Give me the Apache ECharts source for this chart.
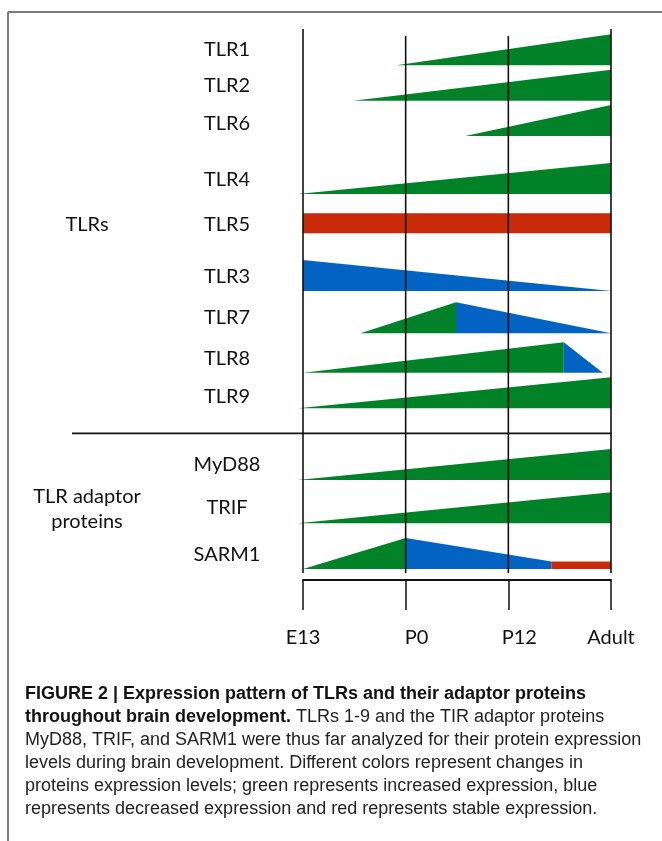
<!DOCTYPE html>
<html><head><meta charset="utf-8">
<script src="https://cdn.jsdelivr.net/npm/echarts@6/dist/echarts.min.js"></script>
<style>html,body{margin:0;padding:0;background:#fff}#c{width:662px;height:841px}</style>
</head><body><div id="c"></div>
<script>
// ---------- DATA ----------
const stages = ['E13', 'P0', 'P12', 'Adult'];
const stageValues = [0, 1, 2, 3];
const rowNames = ['TLR1', 'TLR2', 'TLR6', 'TLR4', 'TLR5', 'TLR3', 'TLR7', 'TLR8', 'TLR9', 'MyD88', 'TRIF', 'SARM1'];
// expression segments (time in stage units, level 0..1)
const segRow    = [0,    1,    2,    3,     4,    5, 6,    6,    7,    7,    8,     9,     10,    11, 11,   11];
const segFrom   = [0.91, 0.49, 1.58, -0.05, 0,    0, 0.56, 1.49, 0,    2.54, -0.05, -0.05, -0.05, 0,  1,    2.42];
const segTo     = [3,    3,    3,    3,     3,    3, 1.49, 3,    2.54, 2.92, 3,     3,     3,     1,  2.42, 3];
const levelFrom = [0,    0,    0,    0,     0.65, 1, 0,    1,    0,    0.98, 0,     0,     0,     0,  1,    0.24];
const levelTo   = [1,    1,    1,    1,     0.65, 0, 1,    0,    0.98, 0,    1,     1,     1,     1,  0.24, 0.24];
const trend     = ['up', 'up', 'up', 'up', 'stable', 'down', 'up', 'down', 'up', 'down', 'up', 'up', 'up', 'up', 'down', 'stable'];
const groupTLR = 'TLRs';
const groupAdaptor = ['TLR adaptor', 'proteins'];
const captionLines = [
  '{b|FIGURE 2 | Expression pattern of TLRs and their adaptor proteins}',
  '{b|throughout brain development.}{n| TLRs 1-9 and the TIR adaptor proteins}',
  '{n|MyD88, TRIF, and SARM1 were thus far analyzed for their protein expression}',
  '{n|levels during brain development. Different colors represent changes in}',
  '{n|proteins expression levels; green represents increased expression, blue}',
  '{n|represents decreased expression and red represents stable expression.}'
];

// ---------- LAYOUT / STYLE ----------
const rowBaseline = [65.3, 100.7, 136, 194, 233.3, 291, 333.3, 372.7, 408.3, 480, 523.3, 569];
const rowLabelY   = [50, 85.7, 124, 179.3, 225, 276.7, 318, 359, 396.7, 465, 508, 555];
const stageLineTop = [29, 36, 36, 29];
const stageLineBottom = 573;
const ROW_H = 31;
const colors = { up: '#028228', down: '#0263c2', stable: '#c92a08' };
const labelFont = 'Lato, "Noto Sans", sans-serif';
const capFont = '"Liberation Sans", Arial, sans-serif';
const capY = [694, 717, 740, 763, 786, 809];

const chart = echarts.init(document.getElementById('c'), null, { renderer: 'canvas' });

const graphics = [
  { type: 'line', shape: { x1: 8, y1: 12, x2: 662, y2: 12 }, style: { stroke: '#7a7a7a', lineWidth: 2 } },
  { type: 'line', shape: { x1: 8, y1: 12, x2: 8, y2: 841 }, style: { stroke: '#7a7a7a', lineWidth: 2 } },
  { type: 'line', shape: { x1: 72, y1: 433.3, x2: 611.5, y2: 433.3 }, style: { stroke: '#111', lineWidth: 1.8 } },
  { type: 'text', x: 87, y: 225, style: { text: groupTLR, font: '20px ' + labelFont, fill: '#111', textAlign: 'center', textVerticalAlign: 'middle' } },
  { type: 'text', x: 87, y: 496.7, style: { text: groupAdaptor[0], font: '20px ' + labelFont, fill: '#111', textAlign: 'center', textVerticalAlign: 'middle' } },
  { type: 'text', x: 87, y: 521.7, style: { text: groupAdaptor[1], font: '20px ' + labelFont, fill: '#111', textAlign: 'center', textVerticalAlign: 'middle' } }
];
captionLines.forEach((t, i) => {
  graphics.push({
    type: 'text', x: 25, y: capY[i],
    style: {
      text: t, textAlign: 'left', textVerticalAlign: 'middle',
      rich: {
        b: { fontFamily: capFont, fontSize: 18, fontWeight: 'bold', fill: '#111' },
        n: { fontFamily: capFont, fontSize: 18, fill: '#222' }
      }
    }
  });
});

const option = {
  animation: false,
  grid: { left: 303, top: 0, width: 308, height: 580 },
  xAxis: {
    type: 'value', min: 0, max: 3, interval: 1, position: 'bottom',
    axisLine: { show: true, onZero: false, lineStyle: { color: '#111', width: 2 } },
    axisTick: { show: true, length: 30, inside: false, lineStyle: { color: '#111', width: 1.5 } },
    splitLine: { show: false },
    axisLabel: {
      margin: 48,
      formatter: function (v) {
        const i = stageValues.indexOf(v);
        const s = stages[i];
        return (i === 1 || i === 2) ? '{o|' + s + '}' : '{n|' + s + '}';
      },
      rich: {
        n: { fontFamily: labelFont, fontSize: 20, color: '#111' },
        o: { fontFamily: labelFont, fontSize: 20, color: '#111', padding: [0, 0, 0, 22] }
      }
    }
  },
  yAxis: { type: 'value', min: 0, max: 580, inverse: true, show: false },
  graphic: graphics,
  series: [
    {
      type: 'custom', name: 'expression', clip: false, z: 2,
      data: segRow.map((r, i) => [segFrom[i], segTo[i], levelFrom[i], levelTo[i], r, i]),
      renderItem: function (params, api) {
        const x0 = api.value(0), x1 = api.value(1), l0 = api.value(2), l1 = api.value(3);
        const r = api.value(4), i = api.value(5);
        const base = rowBaseline[r];
        const pts = [
          api.coord([x0, base]), api.coord([x1, base]),
          api.coord([x1, base - l1 * ROW_H]), api.coord([x0, base - l0 * ROW_H])
        ];
        return { type: 'polygon', shape: { points: pts }, style: { fill: colors[trend[i]] } };
      }
    },
    {
      type: 'custom', name: 'stages', clip: false, z: 3,
      data: stageValues.map((v, i) => [v, i]),
      renderItem: function (params, api) {
        const v = api.value(0), i = api.value(1);
        const a = api.coord([v, stageLineTop[i]]), b = api.coord([v, stageLineBottom]);
        return { type: 'line', shape: { x1: a[0], y1: a[1], x2: b[0], y2: b[1] }, style: { stroke: '#111', lineWidth: 1.6 } };
      }
    },
    {
      type: 'custom', name: 'rows', clip: false, z: 3,
      data: rowNames.map((n, i) => [0, i]),
      renderItem: function (params, api) {
        const i = api.value(1);
        const y = api.coord([0, rowLabelY[i]])[1];
        return { type: 'text', x: 227, y: y, style: { text: rowNames[i], font: '20px ' + labelFont, fill: '#111', textAlign: 'center', textVerticalAlign: 'middle' } };
      }
    }
  ]
};
chart.setOption(option);
</script>
</body></html>
